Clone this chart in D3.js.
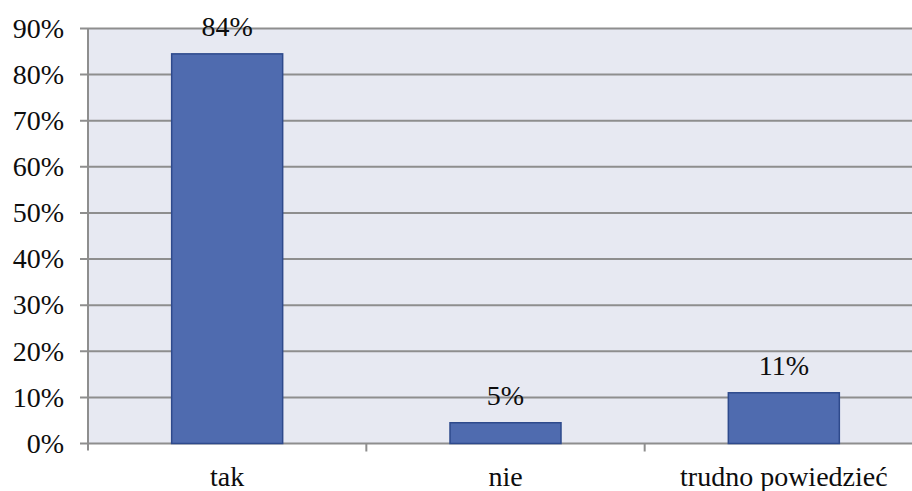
<!DOCTYPE html>
<html>
<head>
<meta charset="utf-8">
<script src="https://cdn.jsdelivr.net/npm/d3@7"></script>
<style>
  html, body { margin: 0; padding: 0; background: #fff; }
  svg { display: block; font-family: "Liberation Serif", "Times New Roman", serif; }
</style>
</head>
<body>
<svg id="chart" width="912" height="491"></svg>
<script>
// bar chart – share of answers

const categories = ["tak", "nie", "trudno powiedzieć"];
const values = [84.5, 4.5, 11];
const valueLabels = ["84%", "5%", "11%"];
const yTicks = [0, 10, 20, 30, 40, 50, 60, 70, 80, 90];

const data = categories.map((c, i) => ({ cat: c, value: values[i], label: valueLabels[i] }));

const svg = d3.select("#chart");
const margin = { top: 28.5, left: 88, bottom: 47 };
const plotRight = 923; // plot runs past the window edge, as in the original
const height = 491;
const FONT = 28;

const x = d3.scaleBand()
  .domain(categories)
  .range([margin.left, plotRight])
  .paddingInner(0)
  .paddingOuter(0);

const y = d3.scaleLinear()
  .domain([0, 90])
  .range([height - margin.bottom - 0.5, margin.top]);

// plot background
svg.append("rect")
  .attr("x", margin.left)
  .attr("y", y(90))
  .attr("width", plotRight - margin.left)
  .attr("height", y(0) - y(90))
  .attr("fill", "#E7E9F2");

// gridlines (with small tick stubs on the left)
svg.append("g")
  .selectAll("line")
  .data(yTicks)
  .join("line")
  .attr("x1", 80)
  .attr("x2", plotRight)
  .attr("y1", d => y(d))
  .attr("y2", d => y(d))
  .attr("stroke", "#8E8E8E")
  .attr("stroke-width", 2);

// left axis line
svg.append("line")
  .attr("x1", margin.left)
  .attr("x2", margin.left)
  .attr("y1", y(90))
  .attr("y2", y(0) + 7)
  .attr("stroke", "#8E8E8E")
  .attr("stroke-width", 2);

// category ticks between bands
svg.append("g")
  .selectAll("line")
  .data(categories.slice(1))
  .join("line")
  .attr("x1", d => x(d))
  .attr("x2", d => x(d))
  .attr("y1", y(0))
  .attr("y2", y(0) + 8)
  .attr("stroke", "#8E8E8E")
  .attr("stroke-width", 2);

// y labels
svg.append("g")
  .selectAll("text")
  .data(yTicks)
  .join("text")
  .attr("x", 64)
  .attr("y", d => y(d))
  .attr("dy", "0.33em")
  .attr("text-anchor", "end")
  .attr("font-size", FONT)
  .attr("fill", "#0d0d0d")
  .text(d => d + "%");

// bars
const barW = 111;
svg.append("g")
  .selectAll("rect")
  .data(data)
  .join("rect")
  .attr("x", d => x(d.cat) + x.bandwidth() / 2 - barW / 2)
  .attr("y", d => y(d.value))
  .attr("width", barW)
  .attr("height", d => y(0) - y(d.value))
  .attr("fill", "#4F6BAF")
  .attr("stroke", "#2E4A8C")
  .attr("stroke-width", 1.5);

// value labels
svg.append("g")
  .selectAll("text")
  .data(data)
  .join("text")
  .attr("x", d => x(d.cat) + x.bandwidth() / 2)
  .attr("y", d => y(d.value) - 18)
  .attr("text-anchor", "middle")
  .attr("font-size", FONT)
  .attr("fill", "#0d0d0d")
  .text(d => d.label);

// category labels
svg.append("g")
  .selectAll("text")
  .data(categories)
  .join("text")
  .attr("x", d => x(d) + x.bandwidth() / 2)
  .attr("y", 486)
  .attr("text-anchor", "middle")
  .attr("font-size", FONT)
  .attr("fill", "#0d0d0d")
  .text(d => d);
</script>
</body>
</html>
